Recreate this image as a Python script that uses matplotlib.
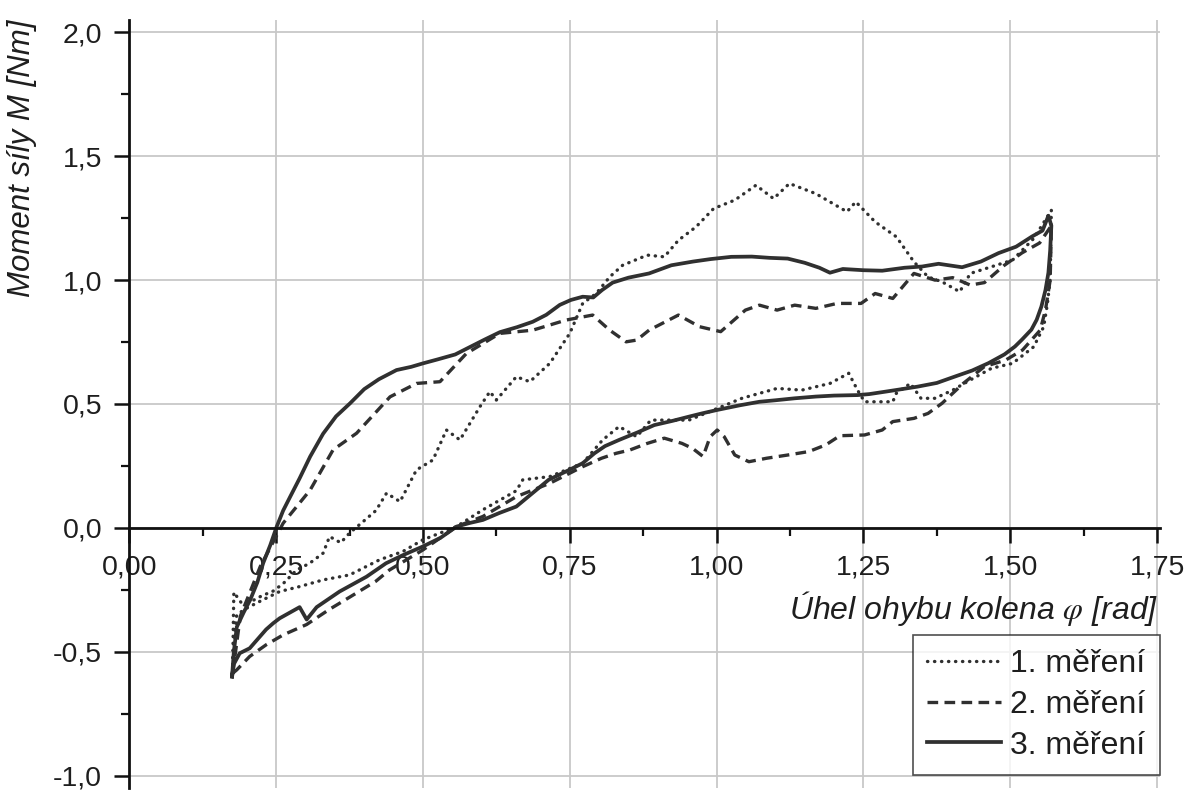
import matplotlib
matplotlib.use("Agg")
import matplotlib.pyplot as plt
import numpy as np

plt.rcParams['font.family'] = ['Liberation Sans', 'DejaVu Sans']
plt.rcParams['mathtext.fontset'] = 'stix'

# ---------------- data ----------------
series_labels = ['1. měření', '2. měření', '3. měření']

# 1. měření (dotted) - loading branch (left -> right)
x1_up = [0.176, 0.177, 0.178, 0.190, 0.205, 0.225, 0.245, 0.262, 0.285, 0.307, 0.330, 0.341,
         0.360, 0.375, 0.398, 0.420, 0.438, 0.461, 0.489, 0.517, 0.540, 0.563, 0.597, 0.614,
         0.625, 0.659, 0.682, 0.716, 0.750, 0.772, 0.795, 0.818, 0.840, 0.882, 0.911, 0.935,
         0.965, 0.995, 1.031, 1.067, 1.097, 1.124, 1.169, 1.222, 1.237, 1.270, 1.306, 1.336,
         1.360, 1.384, 1.414, 1.432, 1.468, 1.504, 1.540, 1.570]
y1_up = [-0.58, -0.40, -0.26, -0.30, -0.30, -0.275, -0.255, -0.225, -0.170, -0.143, -0.102, -0.035,
         -0.060, -0.021, 0.025, 0.070, 0.140, 0.106, 0.234, 0.274, 0.395, 0.355, 0.489, 0.550,
         0.516, 0.610, 0.590, 0.664, 0.785, 0.906, 0.946, 1.013, 1.060, 1.101, 1.094, 1.161,
         1.215, 1.289, 1.323, 1.383, 1.329, 1.390, 1.349, 1.276, 1.316, 1.235, 1.175, 1.074,
         1.013, 0.993, 0.953, 1.027, 1.054, 1.081, 1.168, 1.282]
# 1. měření - unloading branch (right -> left)
x1_dn = [1.570, 1.568, 1.563, 1.557, 1.540, 1.504, 1.468, 1.432, 1.402, 1.372, 1.348, 1.330,
         1.306, 1.300, 1.252, 1.240, 1.225, 1.193, 1.145, 1.103, 1.043, 1.001, 0.953, 0.888,
         0.864, 0.834, 0.806, 0.772, 0.716, 0.670, 0.659, 0.602, 0.557, 0.500, 0.466, 0.426,
         0.375, 0.330, 0.290, 0.256, 0.222, 0.200, 0.183, 0.178, 0.176]
y1_dn = [1.282, 1.000, 0.900, 0.812, 0.731, 0.664, 0.644, 0.597, 0.556, 0.523, 0.523, 0.583,
         0.543, 0.509, 0.509, 0.556, 0.624, 0.583, 0.556, 0.563, 0.523, 0.482, 0.435, 0.435,
         0.368, 0.409, 0.355, 0.261, 0.207, 0.194, 0.150, 0.073, 0.005, -0.048, -0.095, -0.129,
         -0.190, -0.210, -0.237, -0.257, -0.297, -0.324, -0.350, -0.450, -0.580]

# 2. měření (dashed) - loading branch
x2_up = [0.176, 0.189, 0.223, 0.262, 0.308, 0.347, 0.387, 0.444, 0.489, 0.529, 0.574, 0.631,
         0.687, 0.744, 0.789, 0.818, 0.846, 0.864, 0.885, 0.935, 0.971, 1.007, 1.049, 1.073,
         1.103, 1.133, 1.169, 1.205, 1.246, 1.270, 1.300, 1.336, 1.372, 1.402, 1.432, 1.456,
         1.490, 1.520, 1.550, 1.570]
y2_up = [-0.587, -0.357, -0.156, 0.019, 0.153, 0.315, 0.382, 0.529, 0.583, 0.590, 0.704, 0.785,
         0.798, 0.839, 0.859, 0.798, 0.751, 0.758, 0.798, 0.859, 0.812, 0.792, 0.879, 0.899,
         0.879, 0.899, 0.886, 0.906, 0.906, 0.946, 0.926, 1.027, 1.000, 1.010, 0.980, 0.990,
         1.060, 1.110, 1.150, 1.220]
# 2. měření - unloading branch
x2_dn = [1.570, 1.568, 1.560, 1.551, 1.521, 1.492, 1.456, 1.420, 1.384, 1.360, 1.336, 1.300,
         1.282, 1.252, 1.210, 1.186, 1.157, 1.121, 1.085, 1.055, 1.031, 1.013, 1.001, 0.989,
         0.977, 0.959, 0.941, 0.911, 0.882, 0.852, 0.829, 0.804, 0.772, 0.716, 0.659, 0.602,
         0.557, 0.500, 0.443, 0.420, 0.375, 0.340, 0.302, 0.262, 0.233, 0.205, 0.183, 0.176]
y2_dn = [1.220, 1.000, 0.880, 0.798, 0.718, 0.677, 0.651, 0.583, 0.503, 0.462, 0.442, 0.429,
         0.395, 0.375, 0.372, 0.335, 0.308, 0.294, 0.281, 0.267, 0.294, 0.368, 0.395, 0.368,
         0.288, 0.321, 0.341, 0.362, 0.341, 0.314, 0.301, 0.281, 0.247, 0.180, 0.126, 0.046,
         0.005, -0.089, -0.170, -0.215, -0.280, -0.330, -0.390, -0.432, -0.472, -0.519, -0.573, -0.587]

# 3. měření (solid) - loading branch
x3_up = [0.175, 0.178, 0.183, 0.195, 0.206, 0.218, 0.228, 0.240, 0.251, 0.262, 0.274, 0.290,
         0.308, 0.330, 0.352, 0.376, 0.400, 0.425, 0.455, 0.480, 0.500, 0.525, 0.555, 0.580,
         0.605, 0.631, 0.660, 0.687, 0.710, 0.733, 0.752, 0.772, 0.790, 0.805, 0.823, 0.850,
         0.885, 0.923, 0.960, 0.990, 1.025, 1.060, 1.090, 1.121, 1.150, 1.175, 1.193, 1.215,
         1.250, 1.282, 1.320, 1.350, 1.378, 1.418, 1.450, 1.480, 1.510, 1.537, 1.555, 1.565, 1.570]
y3_up = [-0.600, -0.500, -0.400, -0.340, -0.290, -0.220, -0.142, -0.070, 0.005, 0.070, 0.126, 0.200,
         0.288, 0.380, 0.450, 0.503, 0.560, 0.600, 0.637, 0.650, 0.664, 0.680, 0.700, 0.730,
         0.760, 0.790, 0.810, 0.832, 0.860, 0.900, 0.920, 0.933, 0.930, 0.960, 0.990, 1.010,
         1.027, 1.060, 1.075, 1.085, 1.094, 1.095, 1.090, 1.087, 1.070, 1.050, 1.030, 1.045,
         1.040, 1.038, 1.050, 1.055, 1.066, 1.052, 1.075, 1.109, 1.135, 1.176, 1.200, 1.260, 1.220]
# 3. měření - unloading branch
x3_dn = [1.570, 1.568, 1.565, 1.560, 1.553, 1.545, 1.536, 1.520, 1.508, 1.490, 1.463, 1.435,
         1.406, 1.375, 1.342, 1.310, 1.288, 1.260, 1.240, 1.200, 1.169, 1.133, 1.100, 1.073,
         1.040, 1.001, 0.975, 0.953, 0.925, 0.894, 0.865, 0.834, 0.810, 0.792, 0.772, 0.750,
         0.714, 0.690, 0.659, 0.630, 0.602, 0.580, 0.557, 0.530, 0.500, 0.466, 0.437, 0.404,
         0.358, 0.319, 0.302, 0.290, 0.256, 0.245, 0.233, 0.205, 0.188, 0.178, 0.175]
y3_dn = [1.220, 1.120, 1.030, 0.960, 0.893, 0.840, 0.800, 0.760, 0.732, 0.700, 0.665, 0.635,
         0.611, 0.585, 0.570, 0.558, 0.550, 0.540, 0.536, 0.534, 0.530, 0.523, 0.515, 0.509,
         0.495, 0.476, 0.462, 0.449, 0.432, 0.415, 0.385, 0.355, 0.330, 0.301, 0.261, 0.235,
         0.194, 0.147, 0.086, 0.060, 0.032, 0.020, 0.005, -0.040, -0.075, -0.110, -0.143, -0.197,
         -0.257, -0.320, -0.370, -0.320, -0.365, -0.385, -0.410, -0.486, -0.506, -0.550, -0.600]

x_ticks = [0.0, 0.25, 0.5, 0.75, 1.0, 1.25, 1.5, 1.75]
x_ticklabels = ['0,00', '0,25', '0,50', '0,75', '1,00', '1,25', '1,50', '1,75']
y_ticks = [-1.0, -0.5, 0.0, 0.5, 1.0, 1.5, 2.0]
y_ticklabels = ['-1,0', '-0,5', '0,0', '0,5', '1,0', '1,5', '2,0']

x_label = 'Úhel ohybu kolena $\\varphi$ [rad]'
y_label = 'Moment síly M [Nm]'

# ---------------- figure ----------------
W, H = 1192, 800
fig = plt.figure(figsize=(W / 100, H / 100), dpi=100)
ax = fig.add_axes([129.3 / W, 12 / H, 1030.7 / W, 768 / H])

line_col = '#303030'
styles = [
    dict(linestyle=(0, (0.1, 2.0)), lw=2.4, dash_capstyle='round'),
    dict(linestyle=(0, (3.2, 1.9)), lw=2.4, dash_capstyle='butt'),
    dict(linestyle='-', lw=2.7, solid_joinstyle='round'),
]
xs = [x1_up + x1_dn, x2_up + x2_dn, x3_up + x3_dn]
ys = [y1_up + y1_dn, y2_up + y2_dn, y3_up + y3_dn]
for x, y, st, lab in zip(xs, ys, styles, series_labels):
    ax.plot(x, y, color=line_col, label=lab, zorder=3, **st)

ax.set_xlim(0, 1.755)
ax.set_ylim(-1.05, 2.05)

ax.spines['top'].set_visible(False)
ax.spines['right'].set_visible(False)
ax.spines['bottom'].set_position(('data', 0))
for s in ('left', 'bottom'):
    ax.spines[s].set_linewidth(2.0)
    ax.spines[s].set_color('#111111')
    ax.spines[s].set_zorder(4)

ax.set_xticks(x_ticks)
ax.set_xticklabels(x_ticklabels)
ax.set_yticks(y_ticks)
ax.set_yticklabels(y_ticklabels)
ax.set_xticks(np.arange(0.125, 1.75, 0.25), minor=True)
ax.set_yticks(np.arange(-0.75, 2.0, 0.5), minor=True)

ax.tick_params(which='major', direction='out', length=10.5, width=1.8, color='#111111',
               labelsize=20.5, pad=9, labelcolor='#1e1e1e')
ax.tick_params(which='minor', direction='out', length=5.5, width=1.6, color='#111111')

ax.grid(which='major', color='#c8c8c8', lw=1.3, zorder=0)
ax.set_axisbelow(True)

ax.set_xlabel(x_label, fontsize=23, style='italic', color='#1e1e1e', ha='right', va='center')
ax.xaxis.set_label_coords(0.9985, 0.234)
ax.set_ylabel(y_label, fontsize=22.5, style='italic', color='#1e1e1e', ha='center', va='center')
ax.yaxis.set_label_coords(-0.104, 0.820)

leg = ax.legend(loc='lower right', bbox_to_anchor=(1.0, 0.017), borderaxespad=0,
                fontsize=23, frameon=True, fancybox=False, handlelength=2.3,
                handletextpad=0.3, labelspacing=0.33, borderpad=0.45)
leg.get_frame().set_edgecolor('#222222')
leg.get_frame().set_linewidth(1.2)
leg.set_zorder(5)
for t in leg.get_texts():
    t.set_color('#1e1e1e')

fig.savefig('out.png', dpi=100)
